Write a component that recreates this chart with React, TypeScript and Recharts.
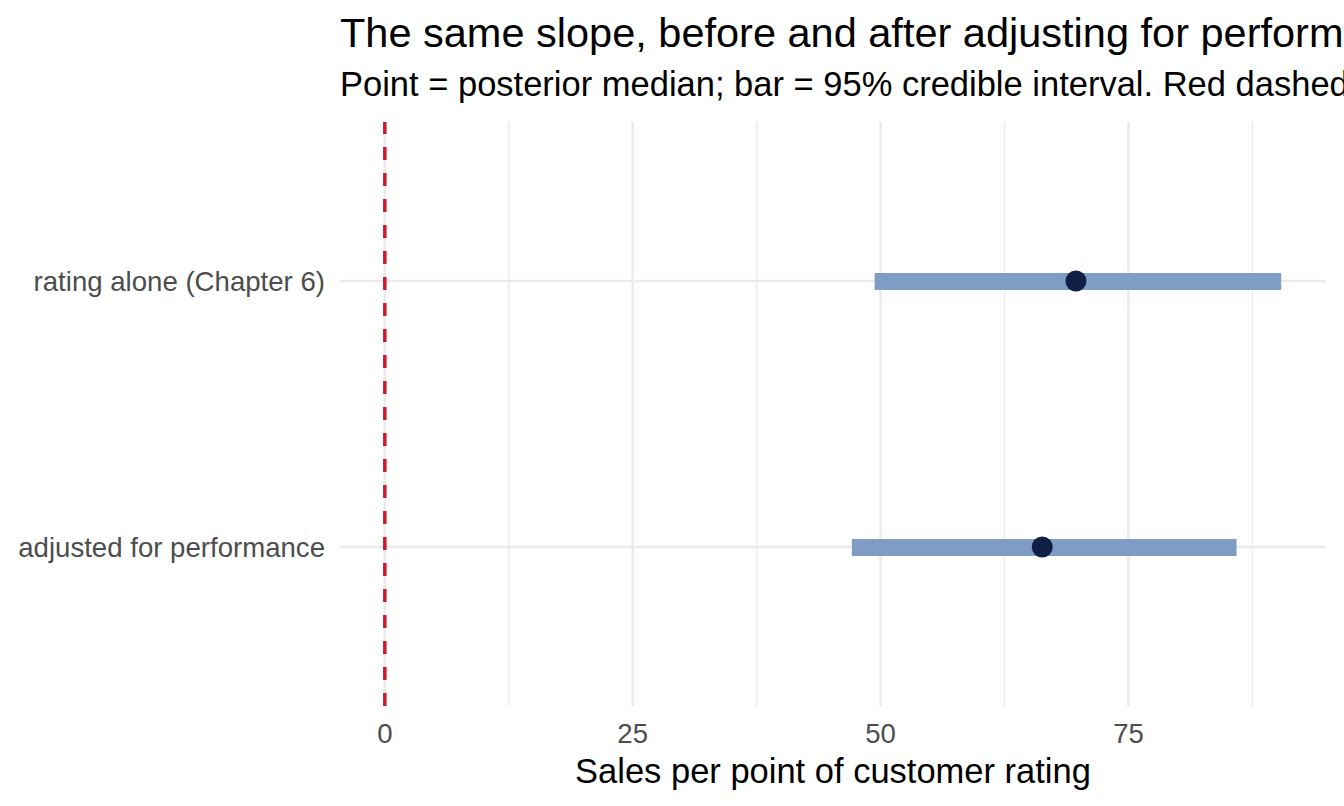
import React from 'react'
import {
  ComposedChart, Bar, Line, XAxis, YAxis, CartesianGrid, ReferenceLine,
} from 'recharts'

const models = ['rating alone (Chapter 6)', 'adjusted for performance']
const lower95 = [49.4, 47.1]
const upper95 = [90.4, 85.9]
const medians = [69.7, 66.3]

const xTicks = [0, 25, 50, 75]
const xMinorTicks = [12.5, 37.5, 62.5, 87.5]
const xDomain = [-4.52, 94.92]

const FONT = '"Liberation Sans", Arial, Helvetica, sans-serif'
const GRID = '#EBEBEB'

const data = models.map((m, i) => ({
  model: m,
  interval: [lower95[i], upper95[i]],
  median: medians[i],
}))

export default function App() {
  return (
    <div style={{ position: 'fixed', left: 0, top: 0, width: 1344, height: 806, overflow: 'hidden', background: '#fff' }}>
      <svg width={1344} height={120} style={{ position: 'absolute', left: 0, top: 0 }}>
        <text x={340} y={47} fontFamily={FONT} fontSize={41.5} fill="#000">
          The same slope, before and after adjusting for performance
        </text>
        <text x={340} y={96} fontFamily={FONT} fontSize={34.5} fill="#000">
          Point = posterior median; bar = 95% credible interval. Red dashed line marks zero.
        </text>
      </svg>
      <div style={{ position: 'absolute', left: 0, top: 0 }}>
        <ComposedChart
          layout="vertical"
          width={1344}
          height={806}
          data={data}
          margin={{ top: 122, right: 18, bottom: 0, left: 0 }}
        >
          {/* minor grid from a hidden axis, major grid from the visible one */}
          <CartesianGrid xAxisId="minor" stroke={GRID} strokeWidth={1.3} horizontal={false} syncWithTicks />
          <CartesianGrid stroke={GRID} strokeWidth={2.6} syncWithTicks />
          <XAxis
            type="number"
            domain={xDomain}
            ticks={xTicks}
            allowDataOverflow
            axisLine={false}
            tickLine={false}
            tickSize={0}
            tickMargin={17}
            height={100}
            tick={{ fontSize: 27.6, fill: '#4D4D4D', fontFamily: FONT }}
            label={{
              value: 'Sales per point of customer rating',
              position: 'insideBottom',
              offset: 23,
              fontSize: 34.5,
              fill: '#000',
              fontFamily: FONT,
            }}
          />
          <XAxis
            xAxisId="minor"
            type="number"
            domain={xDomain}
            ticks={xMinorTicks}
            allowDataOverflow
            hide
          />
          <YAxis
            type="category"
            dataKey="model"
            width={340}
            axisLine={false}
            tickLine={false}
            tickSize={0}
            tickMargin={15}
            padding={{ top: 26, bottom: 26 }}
            tick={{ fontSize: 27.6, fill: '#4D4D4D', fontFamily: FONT }}
          />
          <ReferenceLine x={0} stroke="#CB1A2E" strokeWidth={3.5} strokeDasharray="13 13" />
          <Bar dataKey="interval" fill="#7F9CC5" barSize={17} isAnimationActive={false} />
          <Line
            dataKey="median"
            stroke="none"
            dot={{ r: 10.5, fill: '#101F45', stroke: 'none' }}
            isAnimationActive={false}
          />
        </ComposedChart>
      </div>
    </div>
  )
}
